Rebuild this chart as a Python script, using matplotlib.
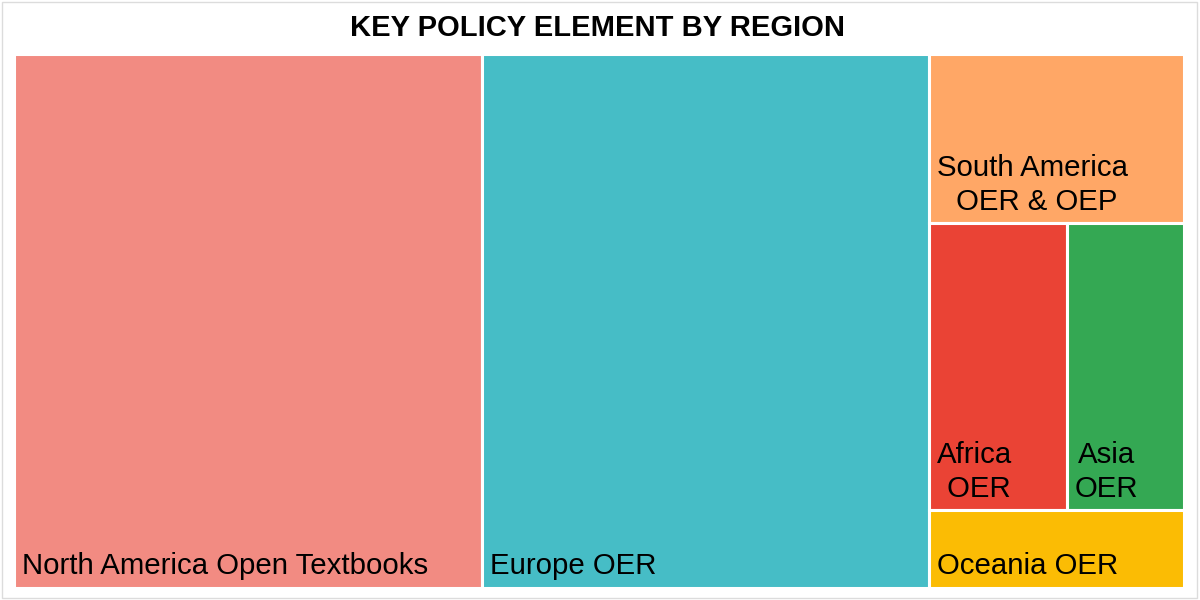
import matplotlib
matplotlib.use("Agg")
import matplotlib.pyplot as plt
from matplotlib.patches import Rectangle

# ---- data ----
labels = ["North America Open Textbooks", "Europe OER", "South America\n OER & OEP",
          "Africa\n OER", "Asia\nOER", "Oceania OER"]
values = [40.0, 38.2, 6.9, 6.35, 5.4, 3.15]
colors = ["#F28B82", "#46BDC6", "#FFA766", "#EA4335", "#34A853", "#FBBC04"]
title = "KEY POLICY ELEMENT BY REGION"

# grouping of the treemap: columns -> rows -> cell indices
layout = [[[0]], [[1]], [[2], [3, 4], [5]]]

W, H = 1200, 600
fig = plt.figure(figsize=(12, 6), dpi=100)
ax = fig.add_axes([0, 0, 1, 1])
ax.set_xlim(0, W)
ax.set_ylim(H, 0)
ax.axis("off")

# outer frame
ax.add_patch(Rectangle((1.5, 1.5), W - 4.5, H - 3.5, facecolor="white",
                       edgecolor="#dcdcdc", lw=1.0, zorder=0))

x0, y0, x1, y1 = 13.5, 53.5, 1184.0, 587.5
total = sum(values)
cx = x0
for col in layout:
    col_sum = sum(values[i] for row in col for i in row)
    cw = (x1 - x0) * col_sum / total
    cy = y0
    for row in col:
        row_sum = sum(values[i] for i in row)
        rh = (y1 - y0) * row_sum / col_sum
        rx = cx
        for i in row:
            w = cw * values[i] / row_sum
            ax.add_patch(Rectangle((rx, cy), w, rh, facecolor=colors[i],
                                   edgecolor="white", lw=2.2, zorder=1))
            ax.text(rx + 8, cy + rh - 7, labels[i], ha="left", va="bottom",
                    multialignment="center", fontsize=21.2, linespacing=1.27,
                    family="Liberation Sans", color="black", zorder=2)
            rx += w
        cy += rh
    cx += cw

ax.text(598, 28, title, ha="center", va="center", fontsize=21,
        fontweight="bold", family="Liberation Sans", color="black")

fig.savefig("out.png", dpi=100)
